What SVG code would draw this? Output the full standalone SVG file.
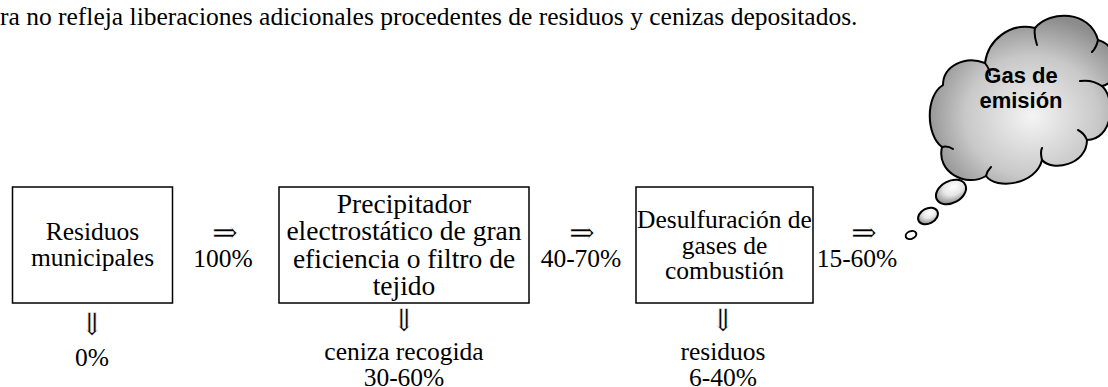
<svg xmlns="http://www.w3.org/2000/svg" width="1108" height="387" viewBox="0 0 1108 387">
<style>
.t{font-family:"Liberation Serif","DejaVu Serif",serif;font-size:25.5px;fill:#000}
.c{text-anchor:middle}
.big{font-size:27.5px}
.box{fill:#fff;stroke:#000;stroke-width:1.5}
.ar{font-family:"DejaVu Serif",serif;font-size:31px;fill:#000;text-anchor:middle;stroke:#fff;stroke-width:0.5px}
.cl{font-family:"Liberation Sans",Arial,sans-serif;font-weight:bold;font-size:22px;fill:#000;text-anchor:middle}
.ol{fill:none;stroke:#000;stroke-width:2;stroke-linecap:round}
</style>
<defs>
<radialGradient id="g" cx="0.55" cy="0.6" r="0.6">
<stop offset="0" stop-color="#f4f4f4"/>
<stop offset="0.6" stop-color="#c8c8c8"/>
<stop offset="1" stop-color="#8c8c8c"/>
</radialGradient>
<radialGradient id="gb" cx="0.65" cy="0.35" r="0.7">
<stop offset="0" stop-color="#ffffff"/>
<stop offset="0.5" stop-color="#e6e6e6"/>
<stop offset="1" stop-color="#8c8c8c"/>
</radialGradient>
</defs>
<rect width="1108" height="387" fill="#fff"/>
<text class="t" x="0" y="25" font-size="27.4">ra no refleja liberaciones adicionales procedentes de residuos y cenizas depositados.</text>

<g id="node-residuos">
<rect class="box" x="12.5" y="187" width="160" height="116"/>
<text class="t c" x="92.5" y="239.5">Residuos</text>
<text class="t c" x="92.5" y="265.5">municipales</text>
</g>
<g id="node-precipitador">
<rect class="box" x="279" y="187" width="250" height="116"/>
<text class="t c big" x="404" y="212.5">Precipitador</text>
<text class="t c big" x="404" y="240">electrostático de gran</text>
<text class="t c big" x="404" y="267.5">eficiencia o filtro de</text>
<text class="t c big" x="404" y="295">tejido</text>
</g>
<g id="node-desulfuracion">
<rect class="box" x="636" y="187" width="177" height="116"/>
<text class="t c" x="724.5" y="227.5">Desulfuración de</text>
<text class="t c" x="724.5" y="253.5">gases de</text>
<text class="t c" x="724.5" y="279">combustión</text>
</g>
<g id="node-gas">
<path fill="url(#g)" stroke="#000" stroke-width="2" d="M943,85 C943,66 965,55 985,63 C988,40 1010,22 1035,28 C1050,10 1090,10 1098,40 C1120,45 1122,82 1102,86 C1117,100 1112,140 1087,140 C1087,165 1052,172 1042,160 C1036,185 996,190 986,176 C966,188 936,172 942,147 C926,135 925,96 943,85 Z"/>
<path class="ol" d="M985,63 C988,67 990,71 990,75 M1035,28 C1034,33 1035,39 1037,45 M1098,40 C1097,45 1095,49 1092,52 M1102,86 C1095,81 1087,80 1080,81 M1087,140 C1085,135 1082,132 1078,130 M1042,160 C1041,155 1040,152 1042,148 M986,176 C987,171 989,169 991,167 M942,147 C946,146 950,147 953,149"/>
<text class="cl" x="1021" y="83">Gas de</text>
<text class="cl" x="1021" y="108">emisión</text>
<ellipse cx="951" cy="192" rx="16" ry="11" transform="rotate(-28 951 192)" fill="url(#gb)" stroke="#000" stroke-width="2"/>
<ellipse cx="928" cy="216" rx="10.5" ry="7.5" transform="rotate(-28 928 216)" fill="url(#gb)" stroke="#000" stroke-width="2"/>
<ellipse cx="911" cy="235" rx="5.5" ry="3.8" transform="rotate(-20 911 235)" fill="#fff" stroke="#000" stroke-width="2"/>
</g>

<g id="connectors">
<text class="ar" x="225" y="243">⇒</text>
<text class="t c" x="223" y="267">100%</text>
<text class="ar" x="582" y="243">⇒</text>
<text class="t c" x="581" y="267">40-70%</text>
<text class="ar" x="864" y="243">⇒</text>
<text class="t c" x="857" y="267">15-60%</text>
<text class="ar" x="92" y="335">⇓</text>
<text class="t c" x="92" y="366">0%</text>
<text class="ar" x="404" y="331">⇓</text>
<text class="t c" x="404" y="360">ceniza recogida</text>
<text class="t c" x="404" y="385.5">30-60%</text>
<text class="ar" x="723" y="331">⇓</text>
<text class="t c" x="723" y="360">residuos</text>
<text class="t c" x="723" y="385.5">6-40%</text>
</g>
</svg>
